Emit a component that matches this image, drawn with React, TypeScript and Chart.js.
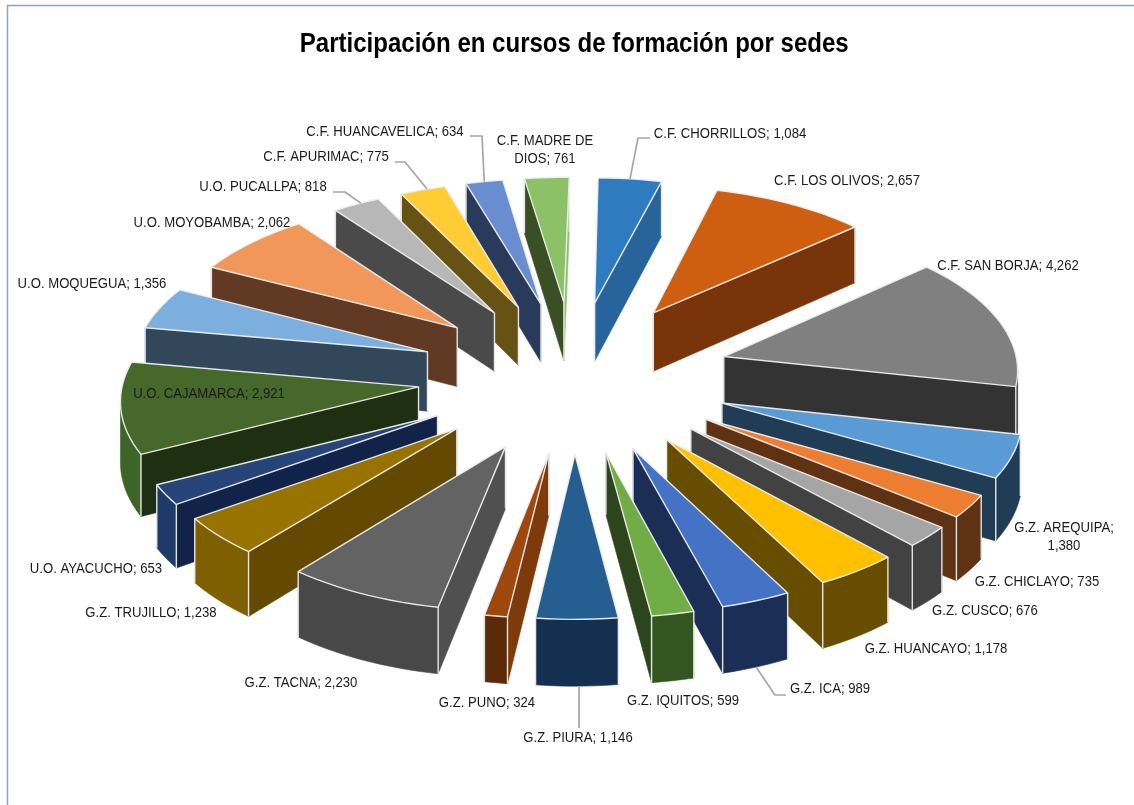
import React, { useEffect, useRef } from "react";
import { Chart, registerables } from "chart.js";

Chart.register(...registerables);

const sedes = [
  "C.F. CHORRILLOS", "C.F. LOS OLIVOS", "C.F. SAN BORJA", "G.Z. AREQUIPA", "G.Z. CHICLAYO", "G.Z. CUSCO", "G.Z. HUANCAYO",
  "G.Z. ICA", "G.Z. IQUITOS", "G.Z. PIURA", "G.Z. PUNO", "G.Z. TACNA", "G.Z. TRUJILLO", "U.O. AYACUCHO", "U.O. CAJAMARCA",
  "U.O. MOQUEGUA", "U.O. MOYOBAMBA", "U.O. PUCALLPA", "C.F. APURIMAC", "C.F. HUANCAVELICA", "C.F. MADRE DE DIOS",
];
const participantes = [1084, 2657, 4262, 1380, 735, 676, 1178, 989, 599, 1146, 324, 2230, 1238, 653, 2921, 1356, 2062, 818, 775, 634, 761];
const topColors = [
  "#2e7cbf", "#ce5f10", "#808080", "#5b9bd5", "#ed7d31", "#a5a5a5", "#ffc000", "#4472c4", "#70ad47", "#255e91", "#9e480e",
  "#636363", "#997300", "#264478", "#46692b", "#7cafdd", "#f1975a", "#b7b7b7", "#ffcd33", "#698ed0", "#8cc168",
];
const edgeColors = [
  "#27649b", "#7a3409", "#333333", "#203d55", "#5f3213", "#424242", "#664d00", "#1b2e55", "#2d451c", "#143050", "#7f3a0b",
  "#505050", "#644900", "#12234a", "#1f2f12", "#32475a", "#613a24", "#4a4a4a", "#665213", "#2a3a5a", "#3a5024",
];
const endEdgeColors: Record<number, string> = { 20: "#8cc168" };
const outerColors = [
  "#27649b", "#7a3409", "#333333", "#203d55", "#5f3213", "#424242", "#664d00", "#1b2e55", "#335520", "#143050", "#5b2a08",
  "#484848", "#7f6000", "#1e3a68", "#3f6427", "#32475a", "#613a24", "#4a4a4a", "#665213", "#2a3a5a", "#3a5024",
];
const labelLines = [
  ["C.F. CHORRILLOS; 1,084"], ["C.F. LOS OLIVOS; 2,657"], ["C.F. SAN BORJA; 4,262"], ["G.Z. AREQUIPA;", "1,380"],
  ["G.Z. CHICLAYO; 735"], ["G.Z. CUSCO; 676"], ["G.Z. HUANCAYO; 1,178"], ["G.Z. ICA; 989"], ["G.Z. IQUITOS; 599"],
  ["G.Z. PIURA; 1,146"], ["G.Z. PUNO; 324"], ["G.Z. TACNA; 2,230"], ["G.Z. TRUJILLO; 1,238"], ["U.O. AYACUCHO; 653"],
  ["U.O. CAJAMARCA; 2,921"], ["U.O. MOQUEGUA; 1,356"], ["U.O. MOYOBAMBA; 2,062"], ["U.O. PUCALLPA; 818"],
  ["C.F. APURIMAC; 775"], ["C.F. HUANCAVELICA; 634"], ["C.F. MADRE DE", "DIOS; 761"],
];
const labelCentres = [
  [730, 134], [847, 181], [1008, 266], [1064, 528], [1037, 582], [985, 611], [936, 649], [830, 689], [683, 701], [578, 738],
  [487, 703], [301, 683], [151, 613], [96, 569], [209, 394], [92, 284], [212, 223], [263, 187], [326, 157], [385, 132], [545, 141],
];
const leaders: Record<number, number[][]> = {
  0: [[650, 138], [638, 138]],
  7: [[786, 695], [775, 695]],
  9: [[579, 728]],
  17: [[333, 192], [345, 192]],
  18: [[395, 162], [405, 162]],
  19: [[470, 136], [482, 136]],
};

const SCALE_X = 295;
const SCALE_Y = 143;
const EXPLODE = 0.53;
const VIEW = 15;
const DEPTH = 60;
const TEXT_SQUEEZE = 0.875;
const TITLE_SQUEEZE = 0.89;
const TITLE_SHIFT = 1;

const pie3d = {
  id: "pie3d",
  afterLayout(chart: any) {
    const block = chart.titleBlock;
    if (!block || block.__squeezed) return;
    const original = block.draw;
    block.draw = function () {
      const c = chart.ctx;
      const mid = chart.width / 2;
      c.save();
      c.translate(mid + TITLE_SHIFT, 0);
      c.scale(TITLE_SQUEEZE, 1);
      c.translate(-mid, 0);
      original.call(block);
      c.restore();
    };
    block.__squeezed = true;
  },
  beforeDraw(chart: any) {
    const { ctx } = chart;
    ctx.save();
    ctx.strokeStyle = "#85a3e0";
    ctx.lineWidth = 1.5;
    ctx.strokeRect(7.5, 5.5, 1300, 1000);
    ctx.restore();
  },
  beforeDatasetsDraw(chart: any) {
    const { ctx } = chart;
    const arcs = chart.getDatasetMeta(0).data;
    const first = arcs[0];
    const cx = first.x;
    const cy = first.y;
    const project = (u: number, v: number, low: boolean) => {
      const s = 1 / (1 - v / VIEW);
      return [cx + SCALE_X * u * s, cy + SCALE_Y * v * s + (low ? DEPTH * s : 0)];
    };
    const slices = arcs.map((arc: any, index: number) => {
      const { startAngle, endAngle } = arc.getProps(["startAngle", "endAngle"], true);
      const mid = (startAngle + endAngle) / 2;
      const ou = EXPLODE * Math.cos(mid);
      const ov = EXPLODE * Math.sin(mid);
      const steps = Math.max(4, Math.ceil((endAngle - startAngle) / 0.04));
      const rim: number[][] = [];
      for (let i = 0; i <= steps; i++) {
        const a = startAngle + ((endAngle - startAngle) * i) / steps;
        rim.push([ou + Math.cos(a), ov + Math.sin(a)]);
      }
      return { index, mid, ou, ov, rim };
    });
    const order = [...slices].sort((a: any, b: any) => Math.sin(a.mid) - Math.sin(b.mid));
    const line = "rgba(238,238,238,0.95)";
    ctx.save();
    ctx.lineJoin = "round";
    for (const s of order) {
      const tipT = project(s.ou, s.ov, false);
      const tipB = project(s.ou, s.ov, true);
      const rimT = s.rim.map((p: number[]) => project(p[0], p[1], false));
      const rimB = s.rim.map((p: number[]) => project(p[0], p[1], true));
      const n = rimT.length;
      const poly = (pts: number[][], fill: string) => {
        ctx.beginPath();
        pts.forEach((p, k) => (k ? ctx.lineTo(p[0], p[1]) : ctx.moveTo(p[0], p[1])));
        ctx.closePath();
        ctx.fillStyle = fill;
        ctx.fill();
        ctx.strokeStyle = fill;
        ctx.lineWidth = 0.6;
        ctx.stroke();
      };
      const edge = edgeColors[s.index];
      const outer = outerColors[s.index];
      const visible = (a: number[], b: number[]) => b[0] < a[0];
      const startSeen = visible(tipT, rimT[0]);
      const endSeen = visible(rimT[n - 1], tipT);
      if (startSeen) poly([tipT, rimT[0], rimB[0], tipB], edge);
      if (endSeen) poly([rimT[n - 1], tipT, tipB, rimB[n - 1]], endEdgeColors[s.index] || edge);
      let from = -1;
      let to = -1;
      for (let i = 0; i < n - 1; i++) {
        if (visible(rimT[i], rimT[i + 1])) {
          if (from < 0) from = i;
          to = i + 1;
        }
      }
      if (from >= 0) {
        poly([...rimT.slice(from, to + 1), ...rimB.slice(from, to + 1).reverse()], outer);
      }
      ctx.strokeStyle = line;
      ctx.lineWidth = 1.4;
      const corners: any[] = [[tipT, tipB, startSeen || endSeen]];
      corners.push([rimT[0], rimB[0], startSeen || from === 0]);
      corners.push([rimT[n - 1], rimB[n - 1], endSeen || to === n - 1]);
      for (const [a, b, show] of corners) {
        if (!show) continue;
        ctx.beginPath();
        ctx.moveTo(a[0], a[1]);
        ctx.lineTo(b[0], b[1]);
        ctx.stroke();
      }
      ctx.beginPath();
      ctx.moveTo(tipT[0], tipT[1]);
      for (const p of rimT) ctx.lineTo(p[0], p[1]);
      ctx.closePath();
      ctx.fillStyle = arcs[s.index].options.backgroundColor;
      ctx.fill();
      ctx.strokeStyle = line;
      ctx.lineWidth = 1.4;
      ctx.stroke();
    }
    ctx.strokeStyle = "#a6a6a6";
    ctx.lineWidth = 1.7;
    for (const key of Object.keys(leaders)) {
      const i = Number(key);
      const s = slices[i];
      const m = s.rim[Math.floor(s.rim.length / 2)];
      const end = project(m[0], m[1], Math.sin(s.mid) > 0);
      const pts = leaders[i];
      ctx.beginPath();
      pts.forEach((p, k) => (k ? ctx.lineTo(p[0], p[1]) : ctx.moveTo(p[0], p[1])));
      ctx.lineTo(pts.length === 1 ? pts[0][0] : end[0], end[1]);
      ctx.stroke();
    }
    ctx.fillStyle = "#1a1a1a";
    ctx.font = "15px 'Liberation Sans'";
    ctx.textAlign = "center";
    ctx.textBaseline = "middle";
    labelLines.forEach((lines, i) => {
      lines.forEach((t, k) => {
        ctx.save();
        ctx.translate(labelCentres[i][0], labelCentres[i][1] + k * 18);
        ctx.scale(TEXT_SQUEEZE, 1);
        ctx.fillText(t, 0, 0);
        ctx.restore();
      });
    });
    ctx.restore();
    return false;
  },
};

export default function App() {
  const ref = useRef<HTMLCanvasElement>(null);
  useEffect(() => {
    document.body.style.margin = "0";
    const chart = new Chart(ref.current as HTMLCanvasElement, {
      type: "pie",
      data: {
        labels: sedes,
        datasets: [{ data: participantes, backgroundColor: topColors, borderWidth: 0 }],
      },
      options: {
        responsive: false,
        animation: false,
        rotation: 1,
        layout: { padding: { left: 14, bottom: 124 } },
        plugins: {
          legend: { display: false },
          tooltip: { enabled: false },
          title: {
            display: true,
            text: "Participación en cursos de formación por sedes",
            color: "#000000",
            font: { family: "'Liberation Sans'", size: 27, weight: "bold" },
            padding: { top: 28, bottom: 10 },
          },
        },
      },
      plugins: [pie3d],
    } as any);
    return () => chart.destroy();
  }, []);
  return <canvas ref={ref} width={1134} height={805} style={{ display: "block" }} />;
}
